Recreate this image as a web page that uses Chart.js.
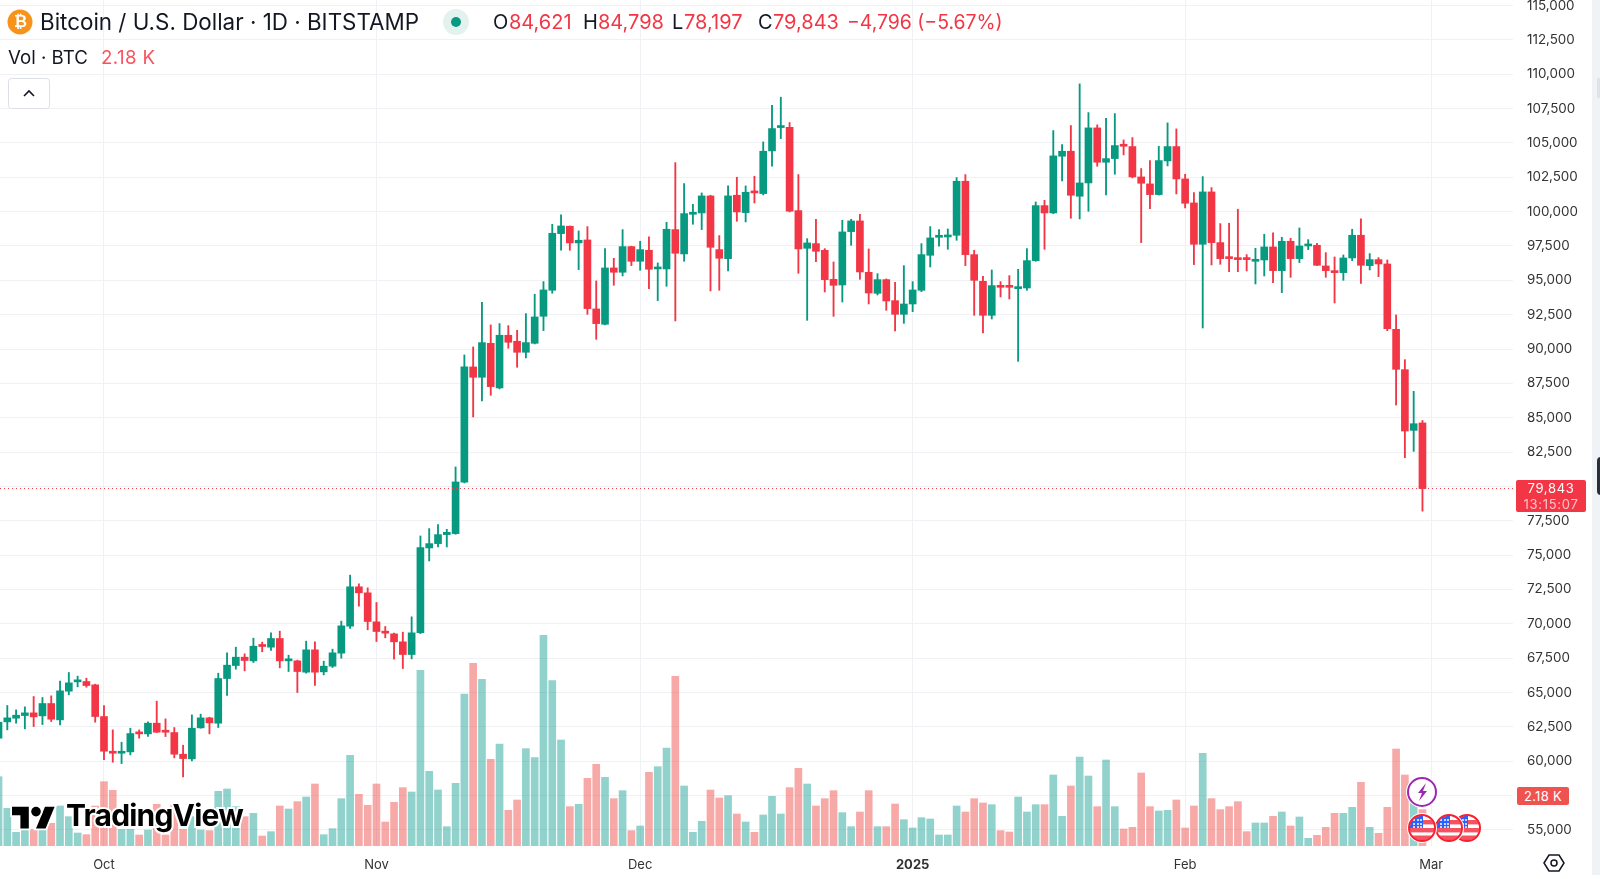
<!DOCTYPE html>
<html><head><meta charset="utf-8">
<script src="https://cdn.jsdelivr.net/npm/chart.js@4/dist/chart.umd.min.js"></script>
<style>
html,body{margin:0;padding:0;background:#fff;overflow:hidden}
#wrap{position:relative;width:1600px;height:879px;overflow:hidden;font-family:Inter,"Liberation Sans",sans-serif;color:#131722}
#wrap canvas{position:absolute;left:0;top:0}
.t{position:absolute;white-space:nowrap;line-height:1}
.h{font-size:20px;top:12px}
.r{color:#f23645}
svg.o{position:absolute;left:0;top:0;pointer-events:none}
.box{position:absolute;color:#fff;text-align:center;border-radius:2px}
</style></head><body>
<div id="wrap">
<canvas id="c" width="1600" height="879"></canvas>

<svg class="o" width="1600" height="879" viewBox="0 0 1600 879">
  <defs>
    <g id="flag">
      <circle r="15" fill="#fff"/>
      <clipPath id="fc"><circle r="12.2"/></clipPath>
      <g clip-path="url(#fc)">
        <rect x="-13" y="-13" width="26" height="26" fill="#fff"/>
        <rect x="-13" y="-8" width="26" height="4.4" fill="#f7525f"/>
        <rect x="-13" y="0" width="26" height="4.4" fill="#f7525f"/>
        <rect x="-13" y="7.5" width="26" height="6" fill="#f7525f"/>
        <rect x="-13" y="-13" width="14" height="13" fill="#2962ff"/>
        <g fill="#fff"><circle cx="-8" cy="-8" r="1"/><circle cx="-4" cy="-8" r="1"/><circle cx="-8" cy="-4" r="1"/><circle cx="-4" cy="-4" r="1"/><circle cx="-8" cy="-1" r="1"/><circle cx="-4" cy="-1" r="1"/><circle cx="-1" cy="-8" r="1"/><circle cx="-1" cy="-4" r="1"/><circle cx="-1" cy="-1" r="1"/></g>
      </g>
      <circle r="13" fill="none" stroke="#f7202f" stroke-width="2"/>
    </g>
  </defs>
  <!-- sidebar -->
  <rect x="1592" y="0" width="8" height="875" fill="#f0f3f6"/>
  <rect x="1597" y="78" width="3" height="20" fill="#dfe2e6"/>
  <rect x="1597" y="457" width="8" height="38" rx="4" fill="#2a2e39"/>
  <!-- watermark -->
  <g transform="translate(12,802) scale(1.2)" stroke="#fff" stroke-width="3" paint-order="stroke" fill="#000">
    <path d="M14 22H7V11H0V4h14v18zM28 22h-8l7.5-18h8L28 22z"/><circle cx="20" cy="8" r="4"/>
  </g>
  <!-- event icons -->
  <use href="#flag" x="1467" y="828"/>
  <use href="#flag" x="1449" y="828"/>
  <use href="#flag" x="1422" y="828"/>
  <circle cx="1422" cy="792" r="16" fill="#fff"/>
  <circle cx="1422" cy="792" r="14" fill="#fff" stroke="#9c27b0" stroke-width="2"/>
  <path d="M1426 783l-8 10h4l-3 8 8-10h-4z" fill="#9c27b0"/>
  <!-- settings -->
  <path d="M1544 863l5-8h10l5 8-5 8h-10z" fill="none" stroke="#131722" stroke-width="1.5"/>
  <circle cx="1554" cy="863" r="3" fill="none" stroke="#131722" stroke-width="1.5"/>
  <!-- collapse button -->
  <rect x="8.5" y="78.5" width="41" height="30" rx="3" fill="#fff" stroke="#dcdfe6"/>
  <path d="M24 96l5-5 5 5" fill="none" stroke="#131722" stroke-width="1.6"/>
  <!-- header icons -->
  <circle cx="20" cy="22" r="12.5" fill="#f7931a"/>
  <circle cx="456" cy="22" r="13" fill="#e4f2ef"/>
  <circle cx="456" cy="22" r="5" fill="#089981"/>
</svg>

<div class="t" style="left:14px;top:14px;font-size:16px;font-weight:700;color:#fff;font-family:'DejaVu Sans',sans-serif">₿</div>
<div class="t" id="title" style="left:40px;top:11px;font-size:22.4px">Bitcoin / U.S. Dollar · 1D · BITSTAMP</div>
<div class="t h" style="left:493px">O</div><div class="t h r" style="left:509px">84,621</div>
<div class="t h" style="left:583px">H</div><div class="t h r" style="left:598px">84,798</div>
<div class="t h" style="left:672px">L</div><div class="t h r" style="left:684px">78,197</div>
<div class="t h" style="left:758px">C</div><div class="t h r" style="left:773px">79,843</div>
<div class="t h r" style="left:847px;font-size:19.4px;top:13px">−4,796 (−5.67%)</div>
<div class="t" style="left:8px;top:49px;font-size:18.7px">Vol · BTC</div>
<div class="t" style="left:101px;top:49px;font-size:18.7px;letter-spacing:.4px;color:#f7525f">2.18 K</div>
<div class="t" style="left:66px;top:800px;font-size:30px;font-weight:700;letter-spacing:-.8px;color:#000;-webkit-text-stroke:4px #fff;paint-order:stroke fill">TradingView</div>
<div class="box" style="left:1516px;top:480px;width:70px;height:32px;background:#f23645;font-size:13px;line-height:15.5px;letter-spacing:.7px"><div style="padding-top:1px">79,843</div><div style="color:#fcc3c8">13:15:07</div></div>
<div class="box" style="left:1517px;top:787px;width:52px;height:18px;background:#ef5350;font-size:13px;line-height:18px;letter-spacing:.3px">2.18 K</div>
</div>

<script>
// Daily candles, 19 Sep 2024 to 28 Feb 2025
const firstDay = '2024-09-19';
const opens = [
 61675,62864,63131,63325,63519,63301,64199,63009,65097,65776,65801,65558,
 63252,60680,60582,60680,62087,61990,62767,62184,62087,60510,60170,62427,63155,62767,66019,66965,67572,67305,68422,68300,68931,67305,67305,66480,68106,66504,66917,67864,69829,72693,72256,
 70145,69441,69271,68689,67766,69355,75522,75837,76492,76565,80301,88695,87943,90417,87166,91000,90563,89762,90417,92382,94275,98399,98933,97720,97938,92916,91800,95900,95585,97453,
 96385,97186,95827,95827,98690,96919,99806,99903,101140,97234,96578,101189,99927,101456,101311,104417,106116,106140,100073,97330,97670,97185,95073,94661,98544,99320,95583,94054,95049,93520,92525,
 93277,94272,96821,98131,98155,98277,102209,96869,94928,92452,94636,94588,94394,94442,96432,100437,99903,104029,104393,101116,102087,106092,103592,103859,104854,104733,102524,102014,101238,103689,104733,
 102378,100631,97622,101432,97743,96626,96554,96554,96384,96481,97427,95704,97840,96578,97500,97549,96044,95704,95559,96626,98277,96069,96505,96190,91433,88496,84079,84621];
const highs = [
 63250,64053,63738,63956,64708,64636,64757,65825,66456,66189,66043,65606,
 64053,62281,61383,62403,62281,62864,64369,63082,62451,61165,63374,63422,63204,66407,67888,68300,67815,68956,68664,69344,69465,67718,67354,68737,68689,67281,68155,70193,73543,72912,72620,
 71553,69805,69320,69392,70509,76395,76929,77220,76880,81417,89568,90150,93401,91752,91849,91703,91363,92576,93984,94905,99078,99757,98957,98593,98908,94954,97307,96604,98690,97480,
 97841,98156,96264,99224,103566,102038,100534,101359,101189,98253,101869,102500,101869,102573,105072,107742,108325,106480,102694,98034,99442,97306,96335,99369,99442,99806,97282,95486,95100,94855,96068,
 94903,97670,98908,98689,98738,102476,102694,97185,95292,95753,94903,95340,95801,97306,100704,100825,105898,104878,106262,109295,107208,106310,106796,107135,105218,105388,103131,103713,104757,106456,106019,
 102718,101383,102548,101747,99126,99151,100170,96869,97330,98350,98447,98131,98058,98811,97961,97694,97015,96699,96845,98714,99466,96942,96651,96481,92476,89224,86918,84798];
const lows = [
 61550,62281,62767,62354,62524,62670,62888,62645,64830,65412,65388,62840,
 60121,59927,59830,60461,61675,61796,62090,61796,60243,58859,60024,62403,61990,62451,64781,66699,66577,67184,67961,68058,66796,66529,65000,66407,65509,66286,66820,67499,69659,71286,69562,
 68713,68980,67427,66747,67451,69280,74575,75594,75594,76516,80252,85056,86220,86633,87094,90053,88671,89350,90369,91339,94056,97186,97186,95779,92528,90708,91752,94639,95318,96070,
 95730,94396,93523,94566,92043,96385,99078,98690,94226,94275,95680,99296,99248,100631,101214,103301,105315,99976,95510,92088,96359,94151,92379,93423,97549,95073,93277,93932,92816,91311,91870,
 92719,94175,95971,97476,97257,97913,96068,92452,91166,92185,93787,93641,89103,94272,96384,97257,99854,102233,99515,99466,100024,103301,101214,102718,104126,102451,97743,100218,101200,103325,101286,
 100267,96141,91530,96117,96165,95631,95631,95680,94733,95316,94830,94102,95219,96287,97233,96069,95219,93350,95000,96432,94782,95753,95267,91336,85923,82089,82550,78197];
const closes = [
 62840,63155,63349,63519,63228,64199,63058,65121,65703,65873,65509,63252,
 60728,60582,60655,62014,61990,62767,62111,62111,60510,60194,62403,63155,62791,66019,66990,67572,67330,68373,68349,68931,67305,67378,66529,68106,66480,66917,67888,69854,72693,72256,70169,
 69441,69320,68689,67766,69344,75545,75837,76492,76662,80325,88695,87943,90466,87263,91000,90490,89762,90466,92334,94299,98423,98957,97720,97914,92940,91849,95900,95585,97453,96385,
 97234,95803,95924,98714,96967,99854,99903,101140,97404,96604,101141,99976,101408,101359,104393,106043,106213,100024,97282,97719,97112,95049,94636,98520,99320,95607,94078,95049,93496,92525,93277,
 94297,96869,98083,98228,98253,102209,96869,95000,92452,94612,94491,94491,94491,96432,100437,99903,104053,104393,101189,102087,106092,103592,103859,104805,104757,102524,102063,101238,103713,104733,102378,
 100607,97622,101432,97743,96578,96578,96505,96505,96457,97427,95704,97840,96578,97500,97573,96093,95704,95559,96626,98277,96093,96505,96190,91481,88520,84030,84564,79843];
const volumes = [
 4160,2260,820,1000,1000,1000,1360,2400,1760,780,680,2400,
 3860,3340,1000,1000,660,960,2500,660,2460,1000,1760,960,920,3280,3420,2360,1760,1960,600,860,2400,2220,2660,2940,3720,680,1040,2840,5440,3100,2440,
 3720,1440,2620,3500,3240,10540,4480,3360,1160,3760,9120,10960,10000,5200,6120,2140,2760,5840,5300,12640,9920,6360,2360,2500,4060,4900,4120,2840,3320,920,
 1200,4420,4760,5880,10180,3600,820,1480,3360,2880,3020,1920,1440,820,1860,2980,1920,3500,4660,3720,2400,2840,3320,2000,1160,2040,3320,1160,1160,2520,1580,
 1080,1700,1620,660,660,2400,2040,2840,2580,2480,920,840,2940,2040,2480,2480,4260,1780,3600,5340,4200,2360,5160,2360,1020,1120,4380,2360,2100,2140,2760,
 1080,2400,5560,2840,2180,2360,2660,860,1380,1380,1780,2040,1200,1740,460,640,1120,1960,1960,2320,3820,1120,760,2320,5820,4260,2560,2180];
const priceTicks = [55000,57500,60000,62500,65000,67500,70000,72500,75000,77500,80000,82500,85000,87500,90000,92500,95000,97500,100000,102500,105000,107500,110000,112500,115000];
const hiddenPriceLabels = [57500,80000];      // covered by the axis badges
const timeTickDates = ['2024-10-01','2024-11-01','2024-12-01','2025-01-01','2025-02-01','2025-03-01'];
const timeTickLabels = ['Oct','Nov','Dec','2025','Feb','Mar'];
const lastPrice = 79843;

const UP='#089981', DOWN='#f23645', VUP='rgba(38,166,154,.5)', VDOWN='rgba(239,83,80,.5)';
const idx = Array.from(closes.keys());
const dayOf = d => Math.round((Date.parse(d)-Date.parse(firstDay))/864e5);
const timeTicks = timeTickDates.map(dayOf);
const isUp = i => closes[i] >= opens[i];
const XMIN=0.17, XMAX=172.3;

new Chart(document.getElementById('c'),{
  data:{datasets:[
    {type:'line',label:'Last',xAxisID:'x',yAxisID:'y',order:1,
     data:[{x:XMIN,y:lastPrice},{x:XMAX,y:lastPrice}],
     borderColor:DOWN,borderWidth:1,borderDash:[1,3],pointRadius:0,fill:false},
    {type:'bar',label:'Body',xAxisID:'x',yAxisID:'y',order:2,grouped:false,barThickness:7,minBarLength:2,
     data:idx.map(i=>({x:i,y:[Math.min(opens[i],closes[i]),Math.max(opens[i],closes[i])]})),
     backgroundColor:idx.map(i=>isUp(i)?UP:DOWN)},
    {type:'bar',label:'Wick',xAxisID:'x',yAxisID:'y',order:3,grouped:false,barThickness:1.2,
     data:idx.map(i=>({x:i,y:[lows[i],highs[i]]})),
     backgroundColor:idx.map(i=>isUp(i)?UP:DOWN)},
    {type:'bar',label:'Vol',xAxisID:'x',yAxisID:'v',order:4,grouped:false,barThickness:7,
     data:idx.map(i=>({x:i,y:volumes[i]})),
     backgroundColor:idx.map(i=>isUp(i)?VUP:VDOWN)}
  ]},
  options:{
    responsive:false,animation:false,
    layout:{padding:0,autoPadding:false},
    plugins:{legend:{display:false},tooltip:{enabled:false}},
    scales:{
      x:{type:'linear',min:XMIN,max:XMAX,offset:false,
        afterBuildTicks:s=>{s.ticks=timeTicks.map(v=>({value:v}));},
        afterFit:s=>{s.height=33;s.paddingLeft=0;s.paddingRight=0;},
        grid:{color:'#f0f1f4',drawTicks:false,offset:false},border:{display:false},
        ticks:{autoSkip:false,maxRotation:0,padding:11,color:'#333',
          font:c=>({family:'Inter',size:13,weight:(c.tick&&timeTicks[3]===c.tick.value)?'700':'400'}),
          callback:v=>timeTickLabels[timeTicks.indexOf(v)]}},
      y:{type:'linear',position:'right',min:53830,max:115400,
        afterBuildTicks:s=>{s.ticks=priceTicks.map(v=>({value:v}));},
        afterFit:s=>{s.width=87;s.paddingTop=0;s.paddingBottom=0;},
        grid:{color:'#f0f1f4',drawTicks:false},border:{display:false},
        ticks:{autoSkip:false,padding:14,color:'#333',font:{family:'Inter',size:13.4},
          callback:v=>hiddenPriceLabels.includes(v)?'':v.toLocaleString('en-US')}},
      v:{type:'linear',display:false,min:0,max:50760}
    }
  }
});
</script>
</body></html>
